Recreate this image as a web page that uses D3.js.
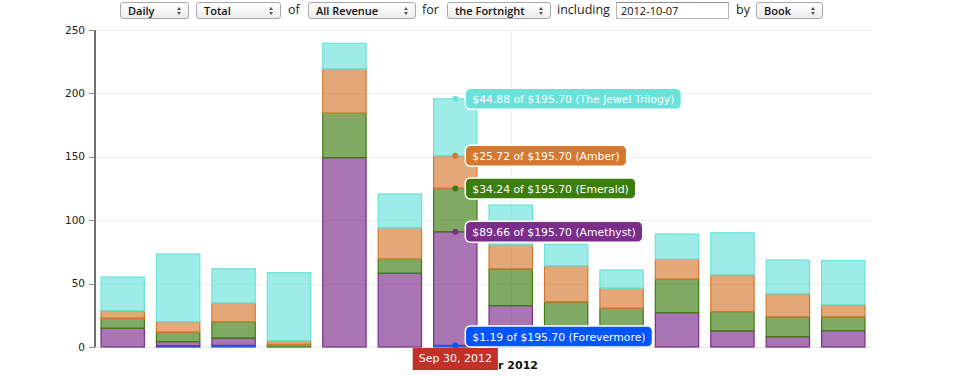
<!DOCTYPE html>
<html>
<head>
<meta charset="utf-8">
<script src="https://cdn.jsdelivr.net/npm/d3@7"></script>
<style>
  body { margin: 0; background: #fff; font-family: "DejaVu Sans", Verdana, sans-serif; }
  #wrap { position: relative; width: 956px; height: 376px; overflow: hidden; }
  #controls { position: absolute; left: 0; top: 2px; height: 18px; }
  .sel, .inp, .word { position: absolute; top: 0; height: 17px; box-sizing: border-box; font-size: 11px; line-height: 15px; }
  .sel { border: 1px solid #a8a8a8; border-radius: 3px; background: linear-gradient(#ffffff, #ececec); color: #111; padding-left: 7px; font-weight: 600; font-family: "Open Sans", sans-serif; }
  .sel .up, .sel .dn { position: absolute; right: 7px; width: 0; height: 0; border-left: 2.5px solid transparent; border-right: 2.5px solid transparent; }
  .sel .up { top: 4px; border-bottom: 3px solid #555; }
  .sel .dn { top: 9px; border-top: 3px solid #555; }
  .inp { border: 1px solid #b5b5b5; border-top-color: #8e8e8e; background: #fff; padding-left: 4px; font-size: 11px; color: #111; font-family: "Open Sans", sans-serif; }
  .word { font-size: 12.5px; color: #222; line-height: 16px; font-family: "Open Sans", sans-serif; }
  svg { position: absolute; left: 0; top: 0; }
</style>
</head>
<body>
<div id="wrap">
  <svg id="chart" width="956" height="376"></svg>
  <div id="controls"></div>
</div>
<script>
var dates = ["2012-09-24", "2012-09-25", "2012-09-26", "2012-09-27", "2012-09-28", "2012-09-29", "2012-09-30",
             "2012-10-01", "2012-10-02", "2012-10-03", "2012-10-04", "2012-10-05", "2012-10-06", "2012-10-07"];
var seriesNames = ["Forevermore", "Amethyst", "Emerald", "Amber", "The Jewel Trilogy"];
var forevermore = [0, 0.8, 1.2, 0, 0, 0, 1.192, 0, 0, 0, 0, 0, 0, 0];
var amethyst = [14.7, 3.4, 5.8, 0, 149.3, 58.1, 89.662, 32.6, 0, 0, 27.1, 12.6, 8.1, 12.9];
var emerald = [7.9, 7.4, 13.0, 2.0, 35.0, 11.1, 34.242, 28.9, 35.5, 30.5, 26.3, 15.3, 15.6, 10.8];
var amber = [6.0, 8.4, 14.6, 3.0, 34.9, 24.6, 25.722, 18.9, 28.4, 15.8, 15.8, 28.9, 18.3, 9.7];
var jewel = [26.6, 53.3, 27.1, 53.6, 20.3, 26.9, 44.882, 31.6, 17.1, 14.4, 19.9, 33.3, 26.6, 34.7];
var yTicks = [0, 50, 100, 150, 200, 250];
var hoverIndex = 6;

var seriesColors = {
  "Forevermore": "#0055ff",
  "Amethyst": "#7b2d8b",
  "Emerald": "#3c7d0f",
  "Amber": "#d5782e",
  "The Jewel Trilogy": "#6ae2da"
};

// controls row
var controls = [
  { type: "sel", text: "Daily", x: 120, w: 69 },
  { type: "sel", text: "Total", x: 196, w: 85 },
  { type: "word", text: "of", x: 288 },
  { type: "sel", text: "All Revenue", x: 308, w: 108 },
  { type: "word", text: "for", x: 422 },
  { type: "sel", text: "the Fortnight", x: 447, w: 104 },
  { type: "word", text: "including", x: 557 },
  { type: "inp", text: "2012-10-07", x: 616, w: 113 },
  { type: "word", text: "by", x: 736 },
  { type: "sel", text: "Book", x: 756, w: 67 }
];
var ctl = d3.select("#controls").selectAll("div").data(controls).enter().append("div")
  .attr("class", function(d) { return d.type })
  .style("left", function(d) { return d.x + "px" })
  .style("width", function(d) { return d.w ? d.w + "px" : null })
  .text(function(d) { return d.text });
var sels = ctl.filter(function(d) { return d.type === "sel" });
sels.append("span").attr("class", "up");
sels.append("span").attr("class", "dn");

var data = dates.map(function(d, i) {
  return { date: d, "Forevermore": forevermore[i], "Amethyst": amethyst[i], "Emerald": emerald[i], "Amber": amber[i], "The Jewel Trilogy": jewel[i] };
});

var chart = d3.select("#chart");
var x0 = 95, x1 = 871, y0 = 347, y1 = 30;

var x = d3.scaleBand().domain(dates).range([x0, x1]).paddingInner(0.2).paddingOuter(0.1);
var y = d3.scaleLinear().domain([0, 250]).range([y0, y1]);
var parseDate = d3.timeParse("%Y-%m-%d");
var formatDay = d3.timeFormat("%b %-d, %Y");

var stacked = d3.stack().keys(seriesNames)(data);

// grid lines
chart.append("g").attr("stroke", "#ececec").attr("stroke-width", 1)
  .selectAll("line").data(yTicks).enter().append("line")
  .attr("x1", x0).attr("x2", x1 + 1)
  .attr("y1", function(d) { return Math.round(y(d)) + 0.5 })
  .attr("y2", function(d) { return Math.round(y(d)) + 0.5 });

var monthStart = dates.filter(function(d) { return d.slice(8) === "01" });
chart.append("g").attr("stroke", "#ececec")
  .selectAll("line").data(monthStart).enter().append("line")
  .attr("x1", function(d) { return Math.round(x(d) + x.bandwidth() / 2) + 0.5 })
  .attr("x2", function(d) { return Math.round(x(d) + x.bandwidth() / 2) + 0.5 })
  .attr("y1", y1).attr("y2", y0 + 7);

// bars
var layers = chart.append("g").selectAll("g").data(stacked).enter().append("g")
  .attr("fill", function(d) { return seriesColors[d.key] })
  .attr("stroke", function(d) { return seriesColors[d.key] });

layers.selectAll("rect").data(function(d) { return d.filter(function(p) { return p[1] - p[0] > 0 }) })
  .enter().append("rect")
  .attr("x", function(d) { return x(d.data.date) + 0.5 })
  .attr("width", x.bandwidth() - 1)
  .attr("y", function(d) { return y(d[1]) })
  .attr("height", function(d) { return Math.max(0.8, y(d[0]) - y(d[1])) })
  .attr("fill-opacity", 0.65)
  .attr("stroke-width", 1.2);

// y axis
var yAxis = chart.append("g").attr("font-size", 10.5).attr("fill", "#222").attr("text-anchor", "end");
yAxis.append("line").attr("x1", x0).attr("x2", x0).attr("y1", y1).attr("y2", y0)
  .attr("stroke", "#707070").attr("stroke-width", 2);
yAxis.selectAll("line.tick").data(yTicks).enter().append("line").attr("class", "tick")
  .attr("x1", x0 - 6).attr("x2", x0)
  .attr("y1", function(d) { return Math.round(y(d)) + 0.5 })
  .attr("y2", function(d) { return Math.round(y(d)) + 0.5 })
  .attr("stroke", "#888");
yAxis.selectAll("text").data(yTicks).enter().append("text")
  .attr("x", x0 - 10)
  .attr("y", function(d) { return y(d) })
  .attr("dy", "0.35em")
  .text(function(d) { return d });

// x axis label
chart.append("text").attr("x", 496).attr("y", 369).attr("text-anchor", "middle")
  .attr("font-size", 11).attr("font-weight", "bold").attr("fill", "#111")
  .text("October 2012");

// hover tooltips
var hov = data[hoverIndex];
var total = d3.sum(seriesNames, function(k) { return hov[k] });
var cx = x(hov.date) + x.bandwidth() / 2;
var fmt = d3.format("$.2f");
var tips = chart.append("g").attr("font-size", 10.8);

stacked.slice().reverse().forEach(function(layer) {
  var p = layer[hoverIndex];
  var yy = y(p[1]);
  var col = seriesColors[layer.key];
  var g = tips.append("g");
  var t = g.append("text").attr("fill", "#fff").attr("dy", "0.35em")
    .text(fmt(hov[layer.key]) + " of " + fmt(total) + " (" + layer.key + ")");
  var w = t.node().getComputedTextLength() + 14;
  var h = 21;
  var by = Math.min(yy - h / 2, y0 - h);
  g.insert("rect", "text").attr("x", cx + 10).attr("y", by).attr("width", w).attr("height", h)
    .attr("rx", 5).attr("fill", col).attr("stroke", "#fff").attr("stroke-width", 1.5);
  t.attr("x", cx + 17).attr("y", by + h / 2 + 0.5);
  g.append("circle").attr("cx", cx).attr("cy", yy).attr("r", 3).attr("fill", col);
});

// date tooltip
var dg = chart.append("g");
var dt = dg.append("text").attr("fill", "#fff").attr("font-size", 11).attr("text-anchor", "middle")
  .attr("x", cx).attr("y", y0 + 15).text(formatDay(parseDate(hov.date)));
var dw = dt.node().getComputedTextLength() + 12;
dg.insert("rect", "text").attr("x", cx - dw / 2).attr("y", y0 + 1).attr("width", dw).attr("height", 22)
  .attr("fill", "#c1312a");
</script>
</body>
</html>
